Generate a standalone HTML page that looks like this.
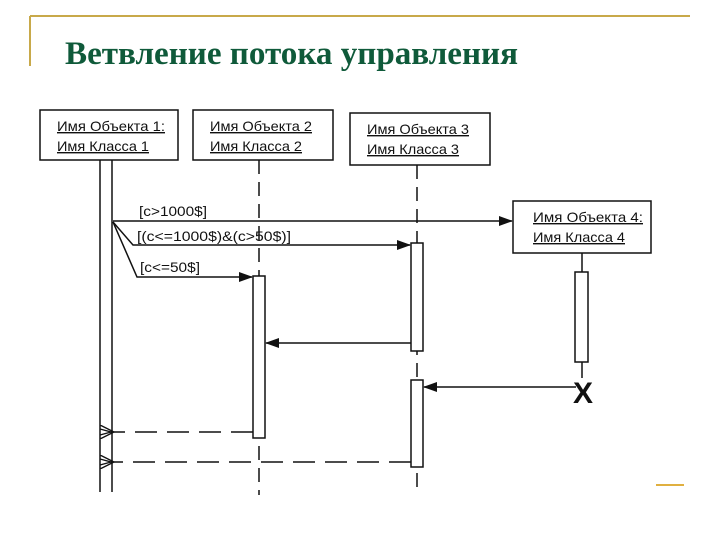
<!DOCTYPE html>
<html><head><meta charset="utf-8"><style>
html,body{margin:0;padding:0;background:#fff;width:720px;height:540px;overflow:hidden}
</style></head><body>
<svg width="720" height="540" viewBox="0 0 720 540" xmlns="http://www.w3.org/2000/svg">
<defs>
<marker id="f" markerWidth="14" markerHeight="10" refX="13" refY="5" orient="auto" markerUnits="userSpaceOnUse"><path d="M0,0 L14,5 L0,10 Z" fill="#111"/></marker>
<marker id="o" markerWidth="16" markerHeight="14" refX="1" refY="7" orient="auto" markerUnits="userSpaceOnUse"><path d="M15,0 L1,7 L15,14 M15,4 L4,7 L15,10" fill="none" stroke="#111" stroke-width="1.4"/></marker>
</defs>
<line x1="30" y1="16" x2="690" y2="16" stroke="#c8a94a" stroke-width="2"/>
<line x1="30" y1="16" x2="30" y2="66" stroke="#c8a94a" stroke-width="2"/>
<line x1="656" y1="485" x2="684" y2="485" stroke="#e0b040" stroke-width="2"/>
<text x="65" y="64" font-family="Liberation Serif, serif" font-weight="bold" font-size="33" fill="#0f5a3a" textLength="453" lengthAdjust="spacingAndGlyphs">Ветвление потока управления</text>
<g font-family="Liberation Sans, sans-serif" font-size="14" fill="#111" text-decoration="underline" stroke="none">
<rect x="40" y="110" width="138" height="50" fill="#fff" stroke="#111" stroke-width="1.5"/>
<text x="57" y="131" textLength="108" lengthAdjust="spacingAndGlyphs">Имя Объекта 1:</text>
<text x="57" y="151" textLength="92" lengthAdjust="spacingAndGlyphs">Имя Класса 1</text>
<rect x="193" y="110" width="140" height="50" fill="#fff" stroke="#111" stroke-width="1.5"/>
<text x="210" y="131" textLength="102" lengthAdjust="spacingAndGlyphs">Имя Объекта 2</text>
<text x="210" y="151" textLength="92" lengthAdjust="spacingAndGlyphs">Имя Класса 2</text>
<rect x="350" y="113" width="140" height="52" fill="#fff" stroke="#111" stroke-width="1.5"/>
<text x="367" y="134" textLength="102" lengthAdjust="spacingAndGlyphs">Имя Объекта 3</text>
<text x="367" y="154" textLength="92" lengthAdjust="spacingAndGlyphs">Имя Класса 3</text>
<rect x="513" y="201" width="138" height="52" fill="#fff" stroke="#111" stroke-width="1.5"/>
<text x="533" y="222" textLength="110" lengthAdjust="spacingAndGlyphs">Имя Объекта 4:</text>
<text x="533" y="242" textLength="92" lengthAdjust="spacingAndGlyphs">Имя Класса 4</text>
</g>
<g stroke="#111" stroke-width="1.5" fill="none">
<line x1="100" y1="160" x2="100" y2="492"/>
<line x1="112" y1="160" x2="112" y2="492"/>
<line x1="259" y1="160" x2="259" y2="495" stroke-dasharray="14,8"/>
<line x1="417" y1="165" x2="417" y2="495" stroke-dasharray="14,8"/>
<line x1="582" y1="253" x2="582" y2="272"/>
<line x1="582" y1="362" x2="582" y2="378"/>
<rect x="253" y="276" width="12" height="162" fill="#fff"/>
<rect x="411" y="243" width="12" height="108" fill="#fff"/>
<rect x="411" y="380" width="12" height="87" fill="#fff"/>
<rect x="575" y="272" width="13" height="90" fill="#fff"/>
<line x1="113" y1="221" x2="512" y2="221" marker-end="url(#f)"/>
<polyline points="113,222 133,245 410,245" marker-end="url(#f)"/>
<polyline points="113,222 137,277 252,277" marker-end="url(#f)"/>
<line x1="411" y1="343" x2="266" y2="343" marker-end="url(#f)"/>
<line x1="576" y1="387" x2="424" y2="387" marker-end="url(#f)"/>
<line x1="253" y1="432" x2="114" y2="432" stroke-dasharray="22,10" marker-end="url(#o)"/>
<line x1="411" y1="462" x2="114" y2="462" stroke-dasharray="22,10" marker-end="url(#o)"/>
</g>
<text x="583" y="403" font-family="Liberation Sans, sans-serif" font-size="30" font-weight="bold" text-anchor="middle" fill="#111">X</text>
<g font-family="Liberation Sans, sans-serif" font-size="14" fill="#111">
<text x="139" y="216" textLength="68" lengthAdjust="spacingAndGlyphs">[c&gt;1000$]</text>
<text x="137" y="241" textLength="154" lengthAdjust="spacingAndGlyphs">[(c&lt;=1000$)&amp;(c&gt;50$)]</text>
<text x="140" y="272" textLength="60" lengthAdjust="spacingAndGlyphs">[c&lt;=50$]</text>
</g>
</svg>
</body></html>
